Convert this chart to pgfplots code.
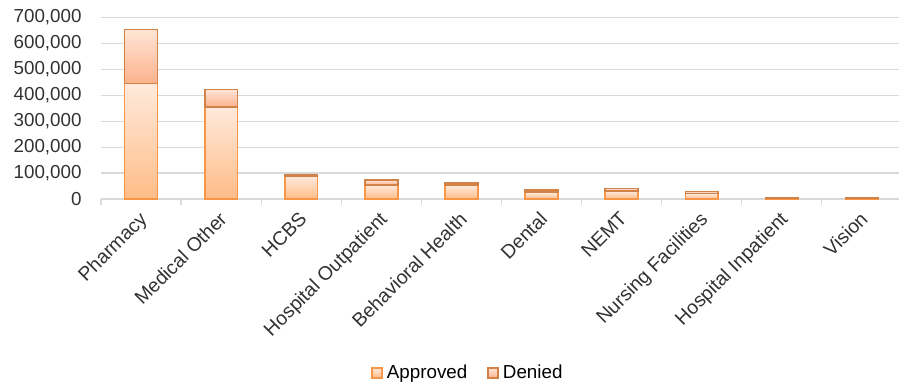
\documentclass[border=0pt]{standalone}
\usepackage{fontspec}
\setmainfont{Liberation Sans}
\usepackage{pgfplots}
\pgfplotsset{compat=1.18}
\definecolor{gridc}{RGB}{217,217,217}
\definecolor{txt}{RGB}{50,50,50}
\definecolor{aline}{RGB}{247,150,70}
\definecolor{atop}{RGB}{255,234,220}
\definecolor{abot}{RGB}{255,188,135}
\definecolor{dline}{RGB}{210,130,70}
\definecolor{dtop}{RGB}{255,229,214}
\definecolor{dbot}{RGB}{251,178,140}
\pgfplotsset{
  sqlegend/.style={legend image code/.code={\draw[##1] (0pt,-2.5pt) rectangle (5pt,2.5pt);}},
  appr/.style={draw=aline, line width=0.8pt, top color=atop, bottom color=abot, mark=none, forget plot},
  den/.style={draw=dline, line width=0.8pt, top color=dtop, bottom color=dbot, mark=none, forget plot},
}
\begin{document}
\begin{tikzpicture}
\useasboundingbox (-50.5pt,-93.5pt) rectangle (399pt,99.5pt);
\begin{axis}[
  scale only axis,
  width=399pt, height=90.75pt,
  font=\fontsize{9.4}{11}\selectfont,
  xmin=-0.5, xmax=9.463,
  ymin=0, ymax=700000,
  ytick={0,100000,...,700000},
  yticklabel style={inner sep=0pt, xshift=-9.5pt, text=txt},
  /pgf/number format/.cd, fixed, 1000 sep={,}, assume math mode=true,
  /pgfplots/.cd,
  scaled y ticks=false,
  ymajorgrids,
  grid style={gridc, line width=0.6pt},
  axis line style={draw=none},
  ytick style={draw=none},
  xtick={0,...,9},
  xticklabels={Pharmacy,Medical Other,HCBS,Hospital Outpatient,Behavioral Health,Dental,NEMT,Nursing Facilities,Hospital Inpatient,Vision},
  major x tick style={draw=none},
  minor xtick={-0.5,0.5,...,8.5},
  minor x tick style={gridc, line width=0.6pt},
  minor tick length=2.8pt,
  major tick length=0pt,
  tick align=outside,
  xtick pos=bottom,
  xticklabel style={inner sep=0pt, xshift=-1.5pt, yshift=-5.5pt, rotate=45, anchor=north east, text=txt, font=\fontsize{9.7}{11}\selectfont},
  legend style={at={(rel axis cs:0.461,-0.959)}, anchor=center, draw=none, fill=none,
    legend columns=2, font=\fontsize{9.4}{11}\selectfont,
    /tikz/every even column/.append style={column sep=8pt}},
  legend cell align=left,
]
% Approved (category centre +/- 0.205), from 0 to approved
\addplot[appr] coordinates {(-0.205,0) (0.205,0) (0.205,445000) (-0.205,445000)} -- cycle;
\addplot[appr] coordinates {(0.795,0) (1.205,0) (1.205,356000) (0.795,356000)} -- cycle;
\addplot[appr] coordinates {(1.795,0) (2.205,0) (2.205,88000) (1.795,88000)} -- cycle;
\addplot[appr] coordinates {(2.795,0) (3.205,0) (3.205,55000) (2.795,55000)} -- cycle;
\addplot[appr] coordinates {(3.795,0) (4.205,0) (4.205,54000) (3.795,54000)} -- cycle;
\addplot[appr] coordinates {(4.795,0) (5.205,0) (5.205,26000) (4.795,26000)} -- cycle;
\addplot[appr] coordinates {(5.795,0) (6.205,0) (6.205,31000) (5.795,31000)} -- cycle;
\addplot[appr] coordinates {(6.795,0) (7.205,0) (7.205,21000) (6.795,21000)} -- cycle;
\addplot[appr] coordinates {(7.795,0) (8.205,0) (8.205,3500) (7.795,3500)} -- cycle;
\addplot[appr] coordinates {(8.795,0) (9.205,0) (9.205,3000) (8.795,3000)} -- cycle;
% Denied, stacked from approved to approved+denied
\addplot[den] coordinates {(-0.205,445000) (0.205,445000) (0.205,654000) (-0.205,654000)} -- cycle;
\addplot[den] coordinates {(0.795,356000) (1.205,356000) (1.205,423000) (0.795,423000)} -- cycle;
\addplot[den] coordinates {(1.795,88000) (2.205,88000) (2.205,95000) (1.795,95000)} -- cycle;
\addplot[den] coordinates {(2.795,55000) (3.205,55000) (3.205,73000) (2.795,73000)} -- cycle;
\addplot[den] coordinates {(3.795,54000) (4.205,54000) (4.205,61500) (3.795,61500)} -- cycle;
\addplot[den] coordinates {(4.795,26000) (5.205,26000) (5.205,34000) (4.795,34000)} -- cycle;
\addplot[den] coordinates {(5.795,31000) (6.205,31000) (6.205,40000) (5.795,40000)} -- cycle;
\addplot[den] coordinates {(6.795,21000) (7.205,21000) (7.205,29000) (6.795,29000)} -- cycle;
\addplot[den] coordinates {(7.795,3500) (8.205,3500) (8.205,6000) (7.795,6000)} -- cycle;
\addplot[den] coordinates {(8.795,3000) (9.205,3000) (9.205,6000) (8.795,6000)} -- cycle;
\addlegendimage{draw=aline, line width=0.8pt, top color=atop, bottom color=abot, sqlegend}
\addlegendimage{draw=dline, line width=0.8pt, top color=dtop, bottom color=dbot, sqlegend}
\legend{Approved, Denied}
\end{axis}
\end{tikzpicture}
\end{document}
